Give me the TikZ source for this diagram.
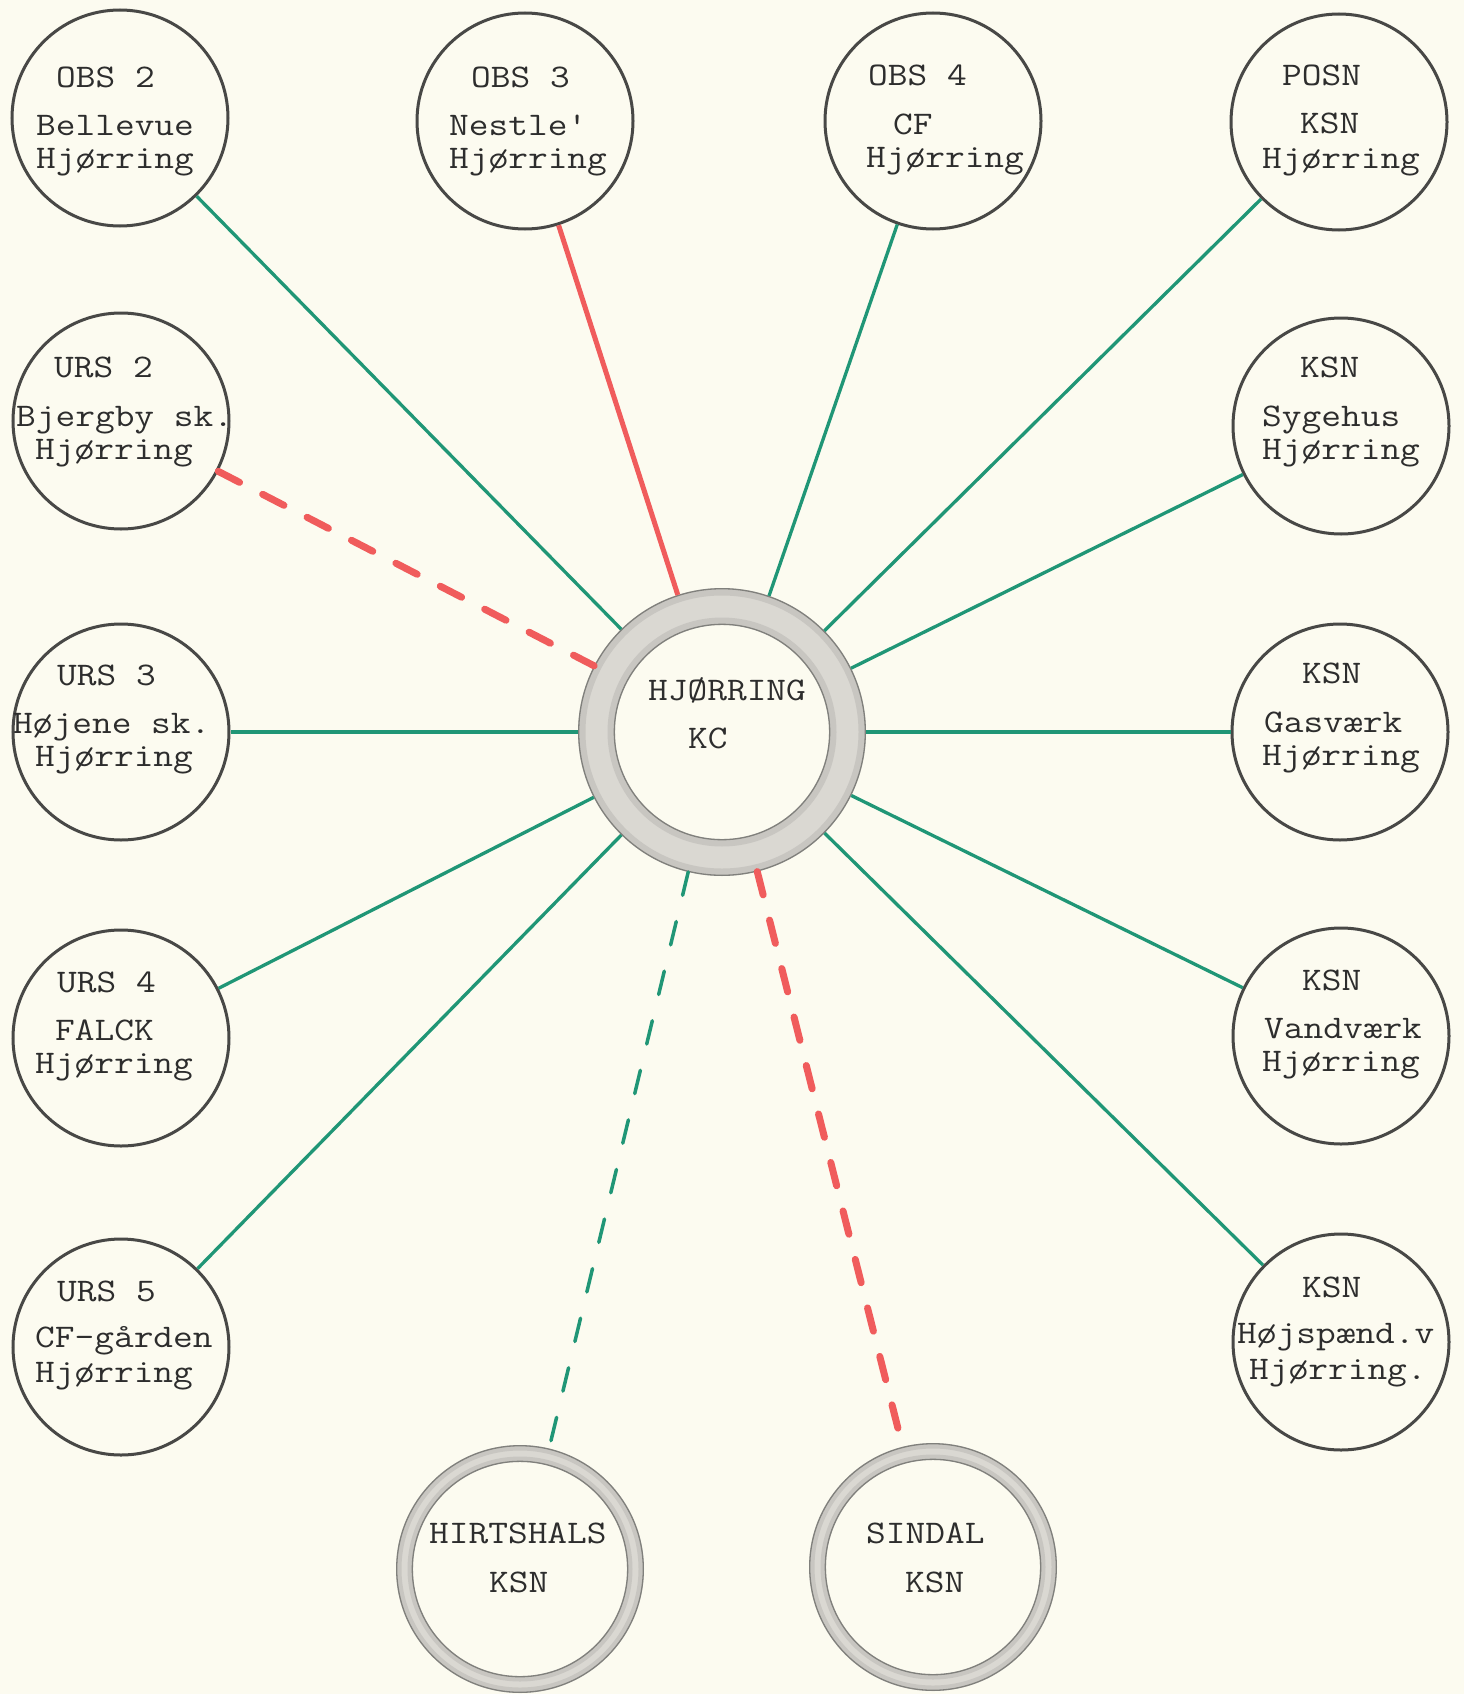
\documentclass[tikz,border=0pt]{standalone}
\usepackage{fontspec}
\usepackage{graphicx}
\newcommand\tws[1]{\scalebox{1.16}[1]{#1}}
\definecolor{paper}{RGB}{252,251,240}
\definecolor{tealg}{RGB}{32,150,118}
\definecolor{redl}{RGB}{240,92,92}
\definecolor{inkc}{RGB}{72,72,70}
\definecolor{ringfill}{RGB}{218,216,210}
\definecolor{ringband}{RGB}{200,198,193}
\definecolor{ringedge}{RGB}{128,128,124}
\definecolor{txt}{RGB}{45,45,45}
\begin{document}
\begin{tikzpicture}[x=1pt,y=-1pt,
  station/.style={circle, draw=inkc, line width=3pt, minimum size=216pt, inner sep=0pt},
  hub/.style={circle, draw=none, inner sep=0pt, outer sep=0pt},
  lbl/.style={inner sep=0pt, anchor=base west, text=txt, font=\fontsize{33}{33}\selectfont\ttfamily},
  gline/.style={draw=tealg, line width=3.3pt},
  rline/.style={draw=redl, line width=5pt},
  rdash/.style={draw=redl, line width=7pt, line cap=round, dash pattern=on 24pt off 26pt},
  gdash/.style={draw=tealg, line width=3.5pt, line cap=round, dash pattern=on 24pt off 27pt},
  ringfillst/.style={fill=ringfill, even odd rule},
  ringbandst/.style={draw=ringband, line width=7pt},
  ringedgest/.style={draw=ringedge, line width=1.3pt}
]
\useasboundingbox (0,0) rectangle (1464,1694);
\fill[paper] (0,0) rectangle (1464,1694);

% stations
\node[station] (obs2) at (120,118) {};
\node[station] (obs3) at (525,121) {};
\node[station] (obs4) at (933,121) {};
\node[station] (posn) at (1339,122) {};
\node[station] (urs2) at (121,421) {};
\node[station] (syg)  at (1341,426) {};
\node[station] (urs3) at (121,732) {};
\node[station] (gas)  at (1340,732) {};
\node[station] (urs4) at (121,1038) {};
\node[station] (vand) at (1341,1036) {};
\node[station] (urs5) at (121,1347) {};
\node[station] (hoj)  at (1341,1342) {};

% hubs
\node[hub, minimum size=288pt] (kc) at (722,732) {};
\node[hub, minimum size=248pt] (hirt) at (520,1569) {};
\node[hub, minimum size=248pt] (sindal) at (933,1567) {};

\fill[ringfillst] (kc.center) circle[radius=144pt] circle[radius=107pt];
\draw[ringbandst] (kc.center) circle[radius=140pt] (kc.center) circle[radius=111pt];
\draw[ringedgest] (kc.center) circle[radius=143.3pt] (kc.center) circle[radius=107.7pt];
\fill[ringfillst] (hirt.center) circle[radius=124pt] circle[radius=107pt];
\draw[ringbandst, line width=5pt] (hirt.center) circle[radius=121pt] (hirt.center) circle[radius=110pt];
\draw[ringedgest] (hirt.center) circle[radius=123.3pt] (hirt.center) circle[radius=107.7pt];
\fill[ringfillst] (sindal.center) circle[radius=124pt] circle[radius=107pt];
\draw[ringbandst, line width=5pt] (sindal.center) circle[radius=121pt] (sindal.center) circle[radius=110pt];
\draw[ringedgest] (sindal.center) circle[radius=123.3pt] (sindal.center) circle[radius=107.7pt];

% connectors
\draw[gline] (obs2) -- (kc);
\draw[rline] (obs3) -- (kc);
\draw[gline] (obs4) -- (kc);
\draw[gline] (posn) -- (kc);
\draw[rdash] (urs2) -- (kc);
\draw[gline] (syg) -- (kc);
\draw[gline] (urs3) -- (kc);
\draw[gline] (gas) -- (kc);
\draw[gline] (urs4) -- (kc);
\draw[gline] (vand) -- (kc);
\draw[gline] (urs5) -- (kc);
\draw[gline] (hoj) -- (kc);
\draw[gdash] (kc) -- (hirt);
\draw[rdash] (kc) -- (sindal);

% labels
\node[lbl] (obs2a) at (56,87) {\tws{OBS 2}};
\node[lbl] (obs2b) at (36,135) {\tws{Bellevue}};
\node[lbl] (obs2c) at (36,168) {\tws{Hjørring}};

\node[lbl] (obs3a) at (471,87) {\tws{OBS 3}};
\node[lbl] (obs3b) at (449,135) {\tws{Nestle'}};
\node[lbl] (obs3c) at (449,168) {\tws{Hjørring}};

\node[lbl] (obs4a) at (868,85) {\tws{OBS 4}};
\node[lbl] (obs4b) at (893,134) {\tws{CF}};
\node[lbl] (obs4c) at (866,167) {\tws{Hjørring}};

\node[lbl] (posna) at (1282,85) {\tws{POSN}};
\node[lbl] (posnb) at (1300,133) {\tws{KSN}};
\node[lbl] (posnc) at (1262,168) {\tws{Hjørring}};

\node[lbl] (urs2a) at (54,377) {\tws{URS 2}};
\node[lbl] (urs2b) at (16,426) {\tws{Bjergby sk.}};
\node[lbl] (urs2c) at (35,459) {\tws{Hjørring}};

\node[lbl] (syga) at (1300,377) {\tws{KSN}};
\node[lbl] (sygb) at (1262,426) {\tws{Sygehus}};
\node[lbl] (sygc) at (1262,459) {\tws{Hjørring}};

\node[lbl] (urs3a) at (57,685) {\tws{URS 3}};
\node[lbl] (urs3b) at (13,733) {\tws{Højene sk.}};
\node[lbl] (urs3c) at (35,766) {\tws{Hjørring}};

\node[lbl] (gasa) at (1302,683) {\tws{KSN}};
\node[lbl] (gasb) at (1264,732) {\tws{Gasværk}};
\node[lbl] (gasc) at (1262,765) {\tws{Hjørring}};

\node[lbl] (urs4a) at (57,992) {\tws{URS 4}};
\node[lbl] (urs4b) at (55,1040) {\tws{FALCK}};
\node[lbl] (urs4c) at (35,1073) {\tws{Hjørring}};

\node[lbl] (vanda) at (1302,990) {\tws{KSN}};
\node[lbl] (vandb) at (1264,1038) {\tws{Vandværk}};
\node[lbl] (vandc) at (1262,1071) {\tws{Hjørring}};

\node[lbl] (urs5a) at (57,1301) {\tws{URS 5}};
\node[lbl] (urs5b) at (35,1347) {\tws{CF-gården}};
\node[lbl] (urs5c) at (35,1382) {\tws{Hjørring}};

\node[lbl] (hoja) at (1302,1297) {\tws{KSN}};
\node[lbl] (hojb) at (1237,1343) {\tws{Højspænd.v}};
\node[lbl] (hojc) at (1249,1379) {\tws{Hjørring.}};

\node[lbl] (kca) at (648,700) {\tws{HJØRRING}};
\node[lbl] (kcb) at (688,748) {\tws{KC}};

\node[lbl] (hirta) at (429,1543) {\tws{HIRTSHALS}};
\node[lbl] (hirtb) at (489,1592) {\tws{KSN}};

\node[lbl] (sinda) at (866,1543) {\tws{SINDAL}};
\node[lbl] (sindb) at (905,1592) {\tws{KSN}};
\end{tikzpicture}
\end{document}
